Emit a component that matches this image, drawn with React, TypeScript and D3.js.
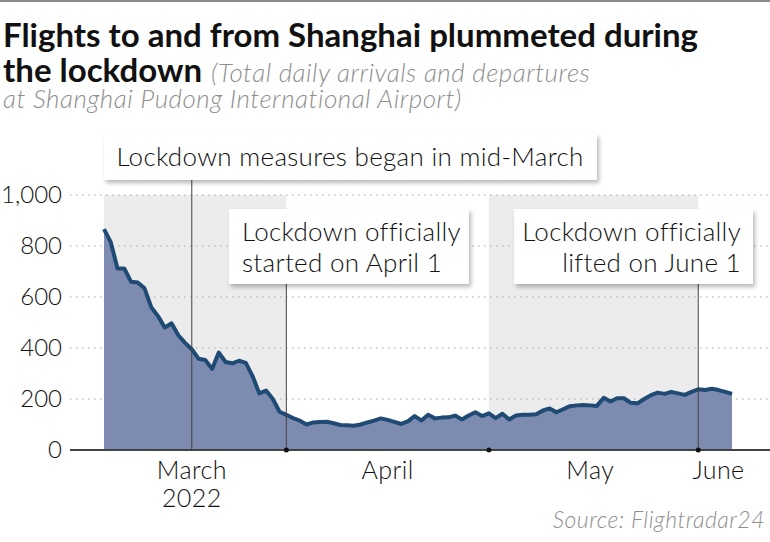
import React from "react";
import * as d3 from "d3";

const startDate = "2022-03-05";
const flights = [
  866, 815, 712, 712, 660, 657, 634, 560, 525, 480,
  497, 450, 420, 395, 358, 353, 318, 382, 345, 340,
  350, 342, 290, 222, 233, 200, 150, 138, 125, 115,
  100, 108, 110, 111, 105, 98, 97, 95, 100, 108,
  115, 124, 118, 110, 102, 112, 133, 116, 138, 124,
  127, 128, 135, 120, 135, 148, 133, 144, 125, 142,
  120, 135, 138, 138, 140, 155, 163, 148, 160, 172,
  175, 176, 175, 173, 205, 190, 203, 203, 185, 183,
  200, 215, 225, 220, 228, 222, 216, 228, 238, 235,
  240, 235, 228, 220,
];
const yTicks = [0, 200, 400, 600, 800, 1000];
const monthTickDates = ["2022-04-01", "2022-05-01", "2022-06-01"];
const monthLabels = [
  { date: "2022-03-18", lines: ["March", "2022"] },
  { date: "2022-04-16", lines: ["April"] },
  { date: "2022-05-16", lines: ["May"] },
  { date: "2022-06-04", lines: ["June"] },
];
const shadedBands = [
  ["2022-03-05", "2022-04-01"],
  ["2022-05-01", "2022-06-01"],
];
const annotations = [
  { date: "2022-03-18", lines: ["Lockdown measures began in mid-March"] },
  { date: "2022-04-01", lines: ["Lockdown officially", "started on April 1"] },
  { date: "2022-06-01", lines: ["Lockdown officially", "lifted on June 1"] },
];

const parse = d3.utcParse("%Y-%m-%d");
const FONT = "Lato, 'Noto Sans', sans-serif";

export default function App() {
  const W = 770, H = 542;
  const t0 = parse(startDate)!;
  const data = flights.map((v, i) => ({ date: d3.utcDay.offset(t0, i), v }));
  const x = d3
    .scaleUtc()
    .domain([t0, data[data.length - 1].date])
    .range([104, 732]);
  const y = d3.scaleLinear().domain([0, 1000]).range([450, 195]);

  const area = d3
    .area<{ date: Date; v: number }>()
    .x((d) => x(d.date))
    .y0(y(0))
    .y1((d) => y(d.v));
  const line = d3
    .line<{ date: Date; v: number }>()
    .x((d) => x(d.date))
    .y((d) => y(d.v));

  const textStyle = { fontFamily: FONT, fontWeight: 300, fill: "#111" } as const;
  const annStyle = { ...textStyle, fontSize: 26, letterSpacing: 0.3 };

  const xa = (s: string) => x(parse(s)!);

  return (
    <svg width={W} height={H} style={{ position: "absolute", left: 0, top: 0, background: "#fff" }}>
      <defs>
        <filter id="sh" x="-10%" y="-20%" width="130%" height="160%">
          <feDropShadow dx="2" dy="3" stdDeviation="2" floodColor="#000" floodOpacity="0.28" />
        </filter>
      </defs>
      <rect x={0} y={0} width={W} height={H} fill="#fff" />
      <line x1={0} x2={W} y1={1} y2={1} stroke="#8a8a8a" strokeWidth={2} />

      {/* Title */}
      <text x={3} y={47} style={{ fontFamily: FONT, fontWeight: 700, fontSize: 33, fill: "#111" }}>
        Flights to and from Shanghai plummeted during
      </text>
      <text x={3} y={82} style={{ fontFamily: FONT, fontWeight: 700, fontSize: 33, fill: "#111" }}>
        the lockdown
        <tspan dx={9} style={{ fontWeight: 300, fontStyle: "italic", fontSize: 26, letterSpacing: 0.5, fill: "#8f8f8f" }}>
          (Total daily arrivals and departures
        </tspan>
      </text>
      <text x={3} y={108} style={{ fontFamily: FONT, fontWeight: 300, fontStyle: "italic", fontSize: 26, letterSpacing: 0.5, fill: "#8f8f8f" }}>
        at Shanghai Pudong International Airport)
      </text>

      {/* shaded bands */}
      {shadedBands.map(([a, b], i) => (
        <rect key={i} x={xa(a)} y={y(1000)} width={xa(b) - xa(a)} height={y(0) - y(1000)} fill="#ececec" />
      ))}

      {/* gridlines */}
      {yTicks.filter((t) => t > 0).map((t) => (
        <line key={t} x1={70} x2={W} y1={y(t)} y2={y(t)} stroke="#a8a8a8" strokeWidth={1.2} strokeDasharray="1.5 4.5" />
      ))}

      {/* area + line */}
      <path d={area(data)!} fill="#7d8bb0" />
      <path d={line(data)!} fill="none" stroke="#1f4a73" strokeWidth={4} strokeLinejoin="round" />

      {/* y labels */}
      {yTicks.map((t) => (
        <text key={t} x={62} y={y(t) + 8} textAnchor="end" style={{ ...textStyle, fontSize: 24 }}>
          {d3.format(",")(t)}
        </text>
      ))}

      {/* baseline */}
      <line x1={70} x2={W} y1={y(0)} y2={y(0)} stroke="#444" strokeWidth={2} />

      {/* annotation lines */}
      <line x1={xa(annotations[0].date)} x2={xa(annotations[0].date)} y1={180} y2={y(0)} stroke="#444" strokeWidth={1} />
      <line x1={xa(annotations[1].date)} x2={xa(annotations[1].date)} y1={284} y2={y(0)} stroke="#444" strokeWidth={1} />
      <line x1={xa(annotations[2].date)} x2={xa(annotations[2].date)} y1={284} y2={y(0)} stroke="#444" strokeWidth={1} />

      {/* tick dots */}
      {monthTickDates.map((d) => (
        <circle key={d} cx={xa(d)} cy={y(0)} r={2.5} fill="#111" />
      ))}

      {/* month labels */}
      {monthLabels.map((m) => (
        <text key={m.date} x={xa(m.date)} y={479} textAnchor="middle" style={{ ...textStyle, fontSize: 25, letterSpacing: 0.4 }}>
          {m.lines.map((l, i) => (
            <tspan key={i} x={xa(m.date)} dy={i === 0 ? 0 : 28}>
              {l}
            </tspan>
          ))}
        </text>
      ))}

      {/* annotation boxes */}
      <g filter="url(#sh)">
        <rect x={104} y={134} width={493} height={46} fill="#fff" />
        <rect x={229} y={209} width={240} height={75} fill="#fff" />
        <rect x={514} y={209} width={239} height={75} fill="#fff" />
      </g>
      <text x={350} y={166} textAnchor="middle" style={annStyle}>
        {annotations[0].lines[0]}
      </text>
      <text x={242} y={241} style={annStyle}>
        {annotations[1].lines.map((l, i) => (
          <tspan key={i} x={242} dy={i === 0 ? 0 : 31}>
            {l}
          </tspan>
        ))}
      </text>
      <text x={741} y={241} textAnchor="end" style={annStyle}>
        {annotations[2].lines.map((l, i) => (
          <tspan key={i} x={741} dy={i === 0 ? 0 : 31}>
            {l}
          </tspan>
        ))}
      </text>

      {/* source */}
      <text x={765} y={528} textAnchor="end" style={{ fontFamily: FONT, fontWeight: 300, fontStyle: "italic", fontSize: 23, letterSpacing: 0.5, fill: "#8f8f8f" }}>
        Source: Flightradar24
      </text>
    </svg>
  );
}
